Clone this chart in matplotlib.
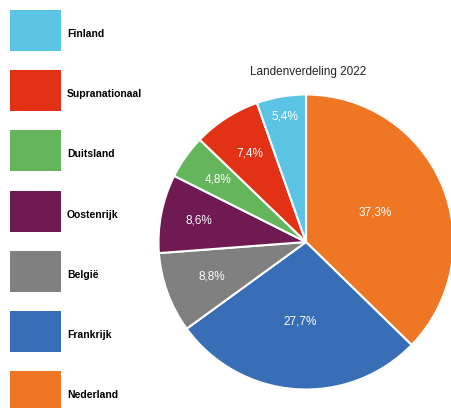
import numpy as np
import matplotlib
matplotlib.use("Agg")
import matplotlib.pyplot as plt
from matplotlib.patches import Rectangle

plt.rcParams['font.family'] = ['Liberation Sans', 'DejaVu Sans']

# data (pie order, clockwise from 12 o'clock)
landen = ["Nederland", "Frankrijk", "België", "Oostenrijk", "Duitsland", "Supranationaal", "Finland"]
aandeel = [37.3, 27.7, 8.8, 8.6, 4.8, 7.4, 5.4]
kleuren = ["#EF7622", "#386EB5", "#808080", "#6F1A53", "#64B55B", "#E33116", "#5BC4E5"]
titel = "Landenverdeling 2022"

# label distance from centre (fraction of radius), per slice
label_r = [0.51, 0.54, 0.68, 0.74, 0.73, 0.71, 0.86]

W, H = 451, 408
fig = plt.figure(figsize=(W / 100, H / 100), dpi=100)

# pie axes: centre (306, 242) px, radius ~147.5 px
cx, cy, r = 306, 242, 147.5
ax = fig.add_axes([(cx - r) / W, (H - cy - r) / H, 2 * r / W, 2 * r / H])
wedges, _ = ax.pie(aandeel, colors=kleuren, startangle=90, counterclock=False,
                   radius=1.0, wedgeprops=dict(edgecolor="white", linewidth=1.5))
ax.set_xlim(-1, 1)
ax.set_ylim(-1, 1)
ax.set_aspect("equal")
ax.axis("off")

for w, v, lr in zip(wedges, aandeel, label_r):
    mid = np.deg2rad((w.theta1 + w.theta2) / 2)
    ax.text(lr * np.cos(mid), lr * np.sin(mid), f"{v:.1f}%".replace(".", ","),
            ha="center", va="center", color="white", fontsize=8.5)

fig.text(308 / W, 1 - 72 / H, titel, ha="center", va="center", fontsize=8.5, color="#222222")

# legend: big colour boxes on the left
lax = fig.add_axes([0, 0, 1, 1])
lax.set_xlim(0, W)
lax.set_ylim(H, 0)
lax.axis("off")
lax.patch.set_alpha(0)
for i, (naam, kleur) in enumerate(zip(landen[::-1], kleuren[::-1])):
    y0 = 10 + i * 60.2
    lax.add_patch(Rectangle((10, y0), 51, 41, facecolor=kleur, edgecolor="none"))
    lax.text(67, y0 + 24, naam, ha="left", va="center", fontsize=7.5,
             fontweight="bold", color="black")

fig.savefig("out.png", dpi=100)
